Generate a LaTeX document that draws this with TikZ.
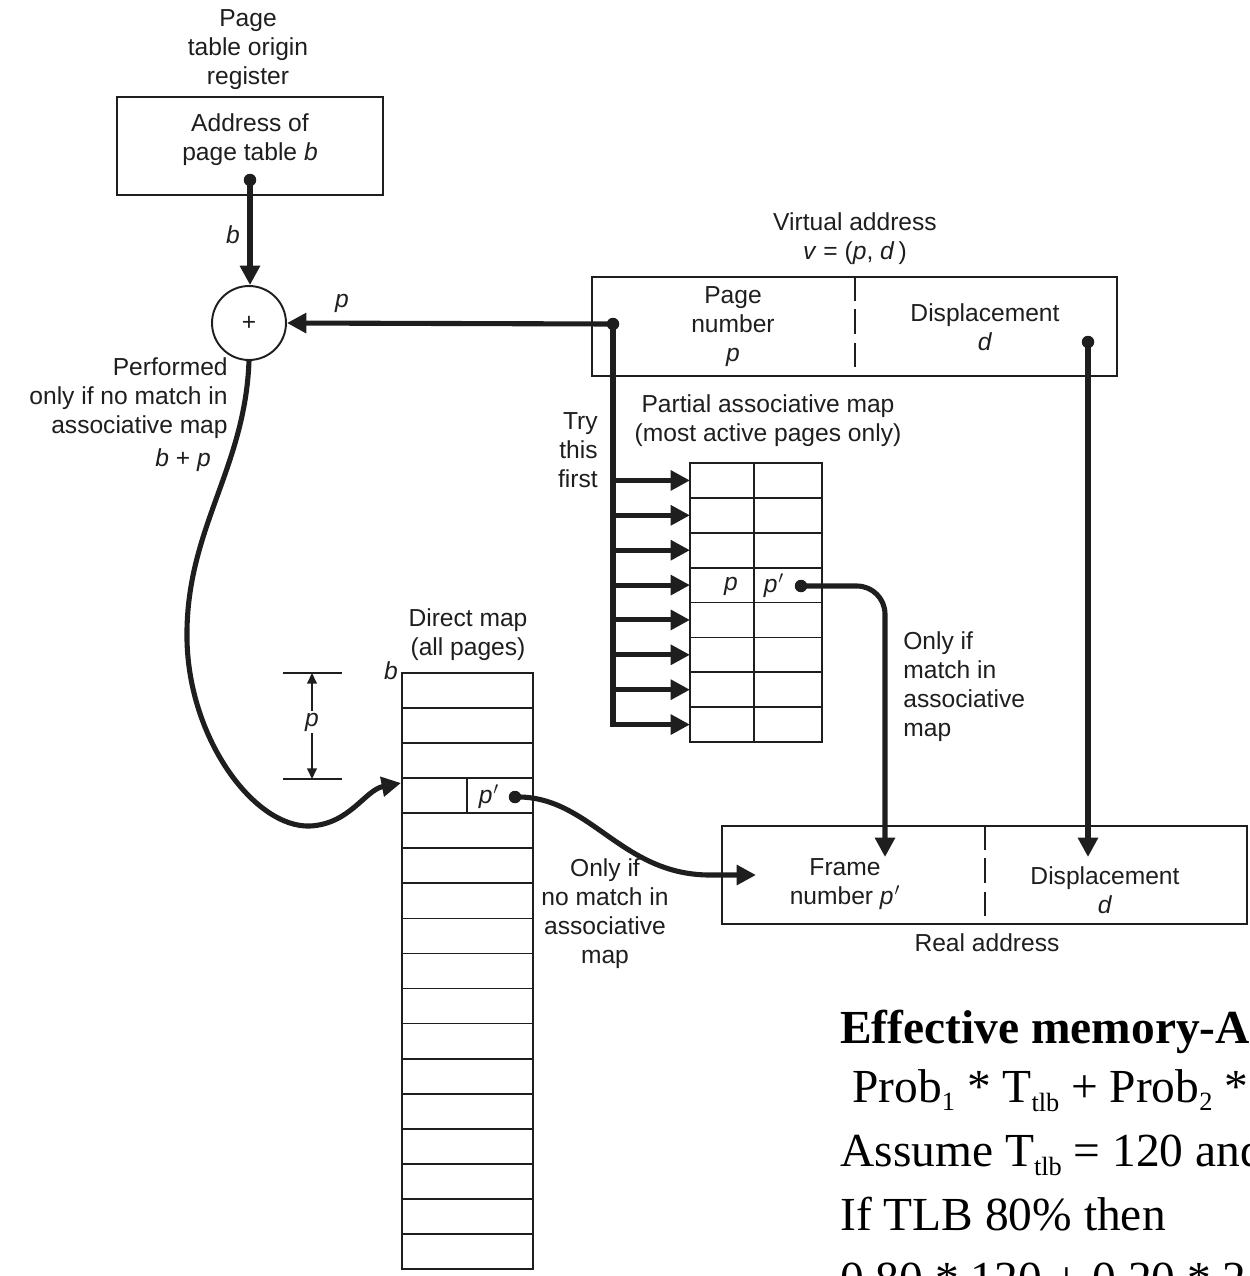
\documentclass[tikz,border=0pt]{standalone}
\usepackage{fontspec}
\setmainfont{Liberation Sans}
\newfontfamily\tnr{Liberation Serif}
\usetikzlibrary{arrows.meta}
\definecolor{ink}{RGB}{30,30,30}
\newcommand{\pprime}{\textit{p}\kern0.5pt$'$}
\begin{document}
\begin{tikzpicture}[x=0.02cm,y=-0.02cm,
  lbl/.style={text=ink, font=\fontsize{14}{16.5}\selectfont, align=center, inner sep=0pt},
  boxst/.style={draw=ink, line width=1.1pt, inner sep=0pt},
  heavy/.style={draw=ink, line width=2.9pt},
  harrow/.style={heavy, -{Triangle[length=11pt,width=11pt]}},
  dotst/.style={circle, fill=ink, inner sep=0pt, minimum size=0.25cm},
  dimline/.style={draw=ink, line width=0.8pt},
  gridline/.style={draw=ink, line width=1pt},
  divider/.style={draw=ink, line width=1.1pt, dash pattern=on 14pt off 5pt},
  serifline/.style={font=\tnr\fontsize{27}{27}\selectfont, anchor=base west, inner sep=0pt, text=black}
]
\useasboundingbox (0,0) rectangle (1249,1276);
\clip (0,0) rectangle (1249,1276);

% ---------- page table origin register ----------
\node[lbl] (regtitle) at (248,50) {Page\\table origin\\register};
\node[boxst, minimum width=5.32cm, minimum height=1.96cm] (reg) at (250,146) {};
\node[lbl] (regtext) at (250,140) {Address of\\page table \textit{b}};
\node[dotst] (regdot) at (250,180) {};

% ---------- adder ----------
\node[boxst, circle, minimum size=1.48cm] (circ) at (249,323) {};
\node[lbl] (plus) at (249,323) {+};
\draw[harrow] (regdot.center) -- (regdot |- circ.north);
\node[lbl] (blbl) at (233,235) {\textit{b}};

% ---------- virtual address ----------
\node[lbl] (vatitle) at (855,239) {Virtual address\\\textit{v} = (\textit{p}, \textit{d}\,)};
\node[boxst, minimum width=10.5cm, minimum height=1.98cm] (va) at (854.5,326.5) {};
\draw[divider] (va.north -| 855,0) -- (va.south -| 855,0);
\node[lbl] (vapage) at (733,327) {Page\\number\\\textit{p}};
\node[lbl] (vadisp) at (985,327) {Displacement\\\textit{d}};
\node[dotst] (vadot) at (613,324) {};
\node[dotst] (vddot) at (1088,342) {};
\draw[harrow] (vadot.center) -- (circ.east);
\node[lbl] (plbl) at (342,303) {\textit{p}};

% ---------- partial associative map ----------
\node[lbl] (amtitle) at (768,421) {Partial associative map\\(most active pages only)};
\node[lbl, align=right, anchor=east] (try) at (598,450) {Try\\this\\first};
\node[boxst, minimum width=2.64cm, minimum height=5.58cm] (am) at (756,602.5) {};
\foreach \k in {1,...,7} {
  \draw[gridline] (690,463+\k*34.875) -- (822,463+\k*34.875);
}
\draw[gridline] (754,463) -- (754,742);
\foreach \k in {1,...,8} {
  \coordinate (aw\k) at (690,463+\k*34.875-17.44);
  \coordinate (bw\k) at (613,463+\k*34.875-17.44);
}
\draw[harrow] (vadot.center) |- (aw8);
\foreach \k in {1,...,7} {
  \draw[harrow] (bw\k) -- (aw\k);
}
\node[lbl] (amp) at (731,586) {\textit{p}};
\node[lbl] (ampp) at (774,586) {\pprime};
\node[dotst] (adot) at (801,586) {};
\node[lbl, align=left, anchor=west] (onlyif1) at (903,687) {Only if\\match in\\associative\\map};

% ---------- real address ----------
\node[boxst, minimum width=10.5cm, minimum height=1.96cm] (ra) at (984.5,875) {};
\draw[divider] (ra.north -| 985,0) -- (ra.south -| 985,0);
\node[lbl] (frame) at (845,884) {Frame\\number \pprime};
\node[lbl] (radisp) at (1105,890) {Displacement\\\textit{d}};
\node[lbl] (ratitle) at (987,943) {Real address};
\coordinate (frtip) at (885,857);
\coordinate (dtip) at (1088,857);
\coordinate (ftip) at (756,875);
\draw[harrow, rounded corners=16pt] (adot.center) -| (frtip);
\draw[harrow] (vddot.center) -- (dtip);

% ---------- direct map ----------
\node[lbl] (dmtitle) at (468,635) {Direct map\\(all pages)};
\node[lbl] (dmb) at (391,671) {\textit{b}};
\node[boxst, minimum width=2.62cm, minimum height=11.92cm] (dm) at (467.5,971) {};
\foreach \k in {1,...,16} {
  \draw[gridline] (402,673+\k*35.06) -- (533,673+\k*35.06);
}
\draw[gridline] (467,779.2) -- (467,814.2);
\node[lbl] (dmpp) at (489,797) {\pprime};
\node[dotst] (ddot) at (515,797) {};
\coordinate (dtarget) at (401,783);
\draw[harrow] (ddot.center) .. controls (590,795) and (620,875) .. (710,875) -- (ftip);
\node[lbl] (onlyif2) at (605,914) {Only if\\no match in\\associative\\map};

% ---------- adder output curve ----------
\node[lbl, align=right, anchor=east] (perf) at (228,398) {Performed\\only if no match in\\associative map};
\node[lbl] (bplusp) at (183,460) {\textit{b} + \textit{p}};
\draw[harrow] (circ.south) .. controls (245,470) and (185,530) .. (187,640)
  .. controls (189,740) and (255,828) .. (310,826)
  .. controls (350,824) and (365,790) .. (dtarget);

% ---------- dimension p ----------
\coordinate (dimtopL) at (283,673);
\coordinate (dimtopR) at (342,673);
\coordinate (dimbotL) at (283,779);
\coordinate (dimbotR) at (342,779);
\draw[dimline] (dimtopL) -- (dimtopR);
\draw[dimline] (dimbotL) -- (dimbotR);
\draw[dimline, -{Triangle[length=6pt,width=5.5pt]}] (312,711) -- (312,673);
\draw[dimline, -{Triangle[length=6pt,width=5.5pt]}] (312,733) -- (312,779);
\node[lbl] (dimp) at (312,722) {\textit{p}};

% ---------- text block ----------
\node[serifline] (t1) at (840,1043) {\bfseries Effective memory-A};
\node[serifline] (t2) at (852,1102) {Prob\raisebox{-5pt}{\fontsize{15}{15}\selectfont 1} * T\raisebox{-5.5pt}{\fontsize{15}{15}\selectfont tlb} + Prob\raisebox{-5pt}{\fontsize{15}{15}\selectfont 2} *};
\node[serifline] (t3) at (840,1166) {Assume T\raisebox{-5.5pt}{\fontsize{15}{15}\selectfont tlb} = 120 and};
\node[serifline] (t4) at (840,1230) {If TLB 80\% then};
\node[serifline] (t5) at (840,1294) {0.80 * 120 + 0.20 * 2};
\end{tikzpicture}
\end{document}
